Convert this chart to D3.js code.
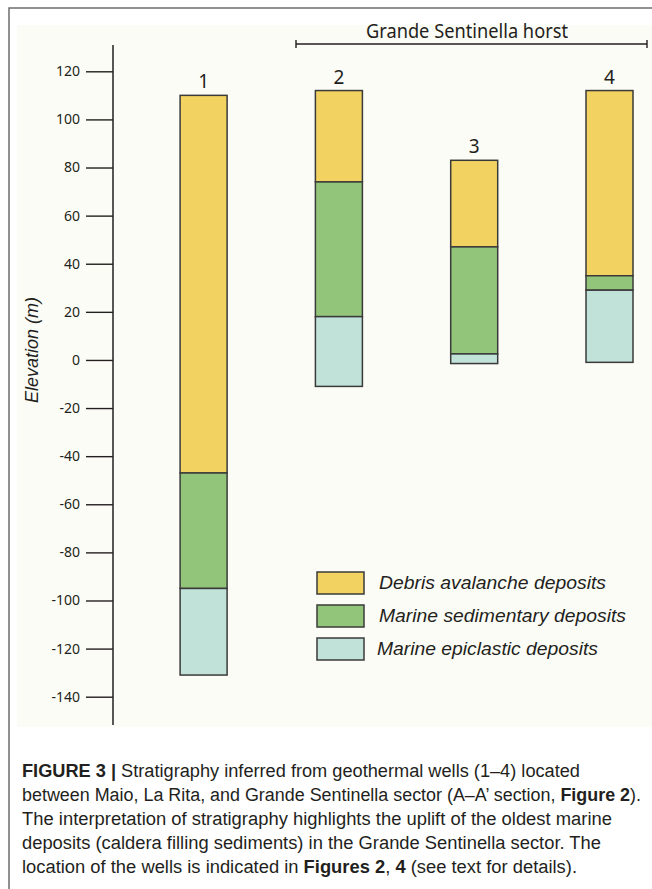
<!DOCTYPE html>
<html>
<head>
<meta charset="utf-8">
<script src="https://cdn.jsdelivr.net/npm/d3@7"></script>
<style>
  html, body { margin: 0; padding: 0; background: #ffffff; }
  svg { display: block; }
</style>
</head>
<body>
<script>
// Wells and their stratigraphic boundaries (elevation, m a.s.l.)
const wells = ["1", "2", "3", "4"];
const wellTop = [110, 112, 83, 112];
const debrisBase = [-47, 74, 47, 35];
const sedimentaryBase = [-95, 18, 2.5, 29];
const epiclasticBase = [-131, -11, -1.5, -1];

const unitNames = ["Debris avalanche deposits", "Marine sedimentary deposits", "Marine epiclastic deposits"];
const unitColors = ["#f2d361", "#92c57a", "#c1e2d9"];
const tickValues = [120, 100, 80, 60, 40, 20, 0, -20, -40, -60, -80, -100, -120, -140];
const horstWells = ["2", "3", "4"];

const W = 652, H = 889;
const ink = "#231f20";

const svg = d3.select("body").append("svg")
  .attr("width", W).attr("height", H);

// figure frame and plot background
svg.append("rect").attr("x", 17).attr("y", 25).attr("width", W - 17).attr("height", 702)
  .attr("fill", "#fcfcf6");
svg.append("path").attr("d", `M9,${H} V8 H${W}`)
  .attr("fill", "none").attr("stroke", "#6d6d6d").attr("stroke-width", 1.5);

const y = d3.scaleLinear().domain([-140, 120]).range([696.7, 71.3]);
const x = d3.scalePoint().domain(wells).range([203.6, 609.5]);
const barW = 47;

// y axis (plain hyphen for negative labels)
const axisX = 113;
const gAxis = svg.append("g").attr("transform", `translate(${axisX},0)`)
  .call(d3.axisLeft(y).tickValues(tickValues).tickFormat(d => String(d))
    .tickSize(27).tickPadding(6).tickSizeOuter(0));
gAxis.select(".domain").remove();
gAxis.selectAll(".tick line").attr("stroke", ink).attr("stroke-width", 1.4);
gAxis.selectAll(".tick text")
  .attr("fill", ink)
  .style("font-family", "'Noto Sans', 'Open Sans', sans-serif")
  .style("font-size", "14px");
svg.append("line").attr("x1", axisX).attr("x2", axisX).attr("y1", 45).attr("y2", 725)
  .attr("stroke", ink).attr("stroke-width", 1.5);

svg.append("text")
  .attr("transform", `translate(38,350) rotate(-90)`)
  .attr("text-anchor", "middle")
  .attr("fill", ink)
  .style("font-family", "'Liberation Sans', Arial, sans-serif")
  .style("font-style", "italic")
  .style("font-size", "18px")
  .text("Elevation (m)");

// stratigraphic columns
const layers = [];
wells.forEach((w, i) => {
  const bounds = [wellTop[i], debrisBase[i], sedimentaryBase[i], epiclasticBase[i]];
  for (let k = 0; k < 3; k++) {
    layers.push({ well: w, unit: k, top: bounds[k], base: bounds[k + 1] });
  }
});

svg.append("g").selectAll("rect")
  .data(layers)
  .join("rect")
  .attr("x", d => x(d.well) - barW / 2)
  .attr("width", barW)
  .attr("y", d => y(d.top))
  .attr("height", d => y(d.base) - y(d.top))
  .attr("fill", d => unitColors[d.unit])
  .attr("stroke", "#3a3a3a")
  .attr("stroke-width", 1.5);

// well numbers
svg.append("g").selectAll("text")
  .data(wells)
  .join("text")
  .attr("x", d => x(d))
  .attr("y", (d, i) => y(wellTop[i]) - 7)
  .attr("text-anchor", "middle")
  .attr("fill", ink)
  .style("font-family", "'Noto Sans', 'Open Sans', sans-serif")
  .style("font-size", "19px")
  .text(d => d);

// horst bracket over wells 2-4
const bx0 = 296, bx1 = 647, by = 44;
svg.append("path")
  .attr("d", `M${bx0},${by - 4} V${by + 4} M${bx0},${by} H${bx1} M${bx1},${by - 4} V${by + 4}`)
  .attr("fill", "none").attr("stroke", ink).attr("stroke-width", 1.4);
svg.append("text")
  .attr("x", 467).attr("y", 38)
  .attr("text-anchor", "middle")
  .attr("fill", ink)
  .attr("textLength", 202).attr("lengthAdjust", "spacingAndGlyphs")
  .style("font-family", "'Noto Sans', 'Open Sans', sans-serif")
  .style("font-size", "19px")
  .text("Grande Sentinella horst");

// legend
const legTop = [572, 605, 638];
const legLen = [227, 247, 221];
const leg = svg.append("g").selectAll("g")
  .data(unitNames)
  .join("g");
leg.append("rect")
  .attr("x", 317).attr("y", (d, i) => legTop[i])
  .attr("width", barW).attr("height", 22)
  .attr("fill", (d, i) => unitColors[i])
  .attr("stroke", "#3a3a3a").attr("stroke-width", 1.5);
leg.append("text")
  .attr("x", (d, i) => i === 2 ? 377 : 379)
  .attr("y", (d, i) => legTop[i] + 17)
  .attr("fill", ink)
  .attr("textLength", (d, i) => legLen[i])
  .attr("lengthAdjust", "spacingAndGlyphs")
  .style("font-family", "'Liberation Sans', Arial, sans-serif")
  .style("font-style", "italic")
  .style("font-size", "18px")
  .text(d => d);

// caption
const captionLines = [
  { len: 558, parts: [["FIGURE 3 |", true], [" Stratigraphy inferred from geothermal wells (1\u20134) located", false]] },
  { len: 619, parts: [["between Maio, La Rita, and Grande Sentinella sector (A\u2013A\u2019 section, ", false], ["Figure 2", true], [").", false]] },
  { len: 590, parts: [["The interpretation of stratigraphy highlights the uplift of the oldest marine", false]] },
  { len: 579, parts: [["deposits (caldera filling sediments) in the Grande Sentinella sector. The", false]] },
  { len: 555, parts: [["location of the wells is indicated in ", false], ["Figures 2", true], [", ", false], ["4", true], [" (see text for details).", false]] }
];
const cap = svg.append("g")
  .style("font-family", "'Liberation Sans Narrow', 'Liberation Sans', Arial, sans-serif")
  .style("font-size", "18px")
  .attr("fill", ink);
captionLines.forEach((line, i) => {
  const t = cap.append("text")
    .attr("x", 22).attr("y", 777 + i * 24)
    .attr("textLength", line.len).attr("lengthAdjust", "spacingAndGlyphs");
  line.parts.forEach(([s, b]) => {
    t.append("tspan").attr("font-weight", b ? "bold" : "normal").text(s);
  });
});
</script>
</body>
</html>
